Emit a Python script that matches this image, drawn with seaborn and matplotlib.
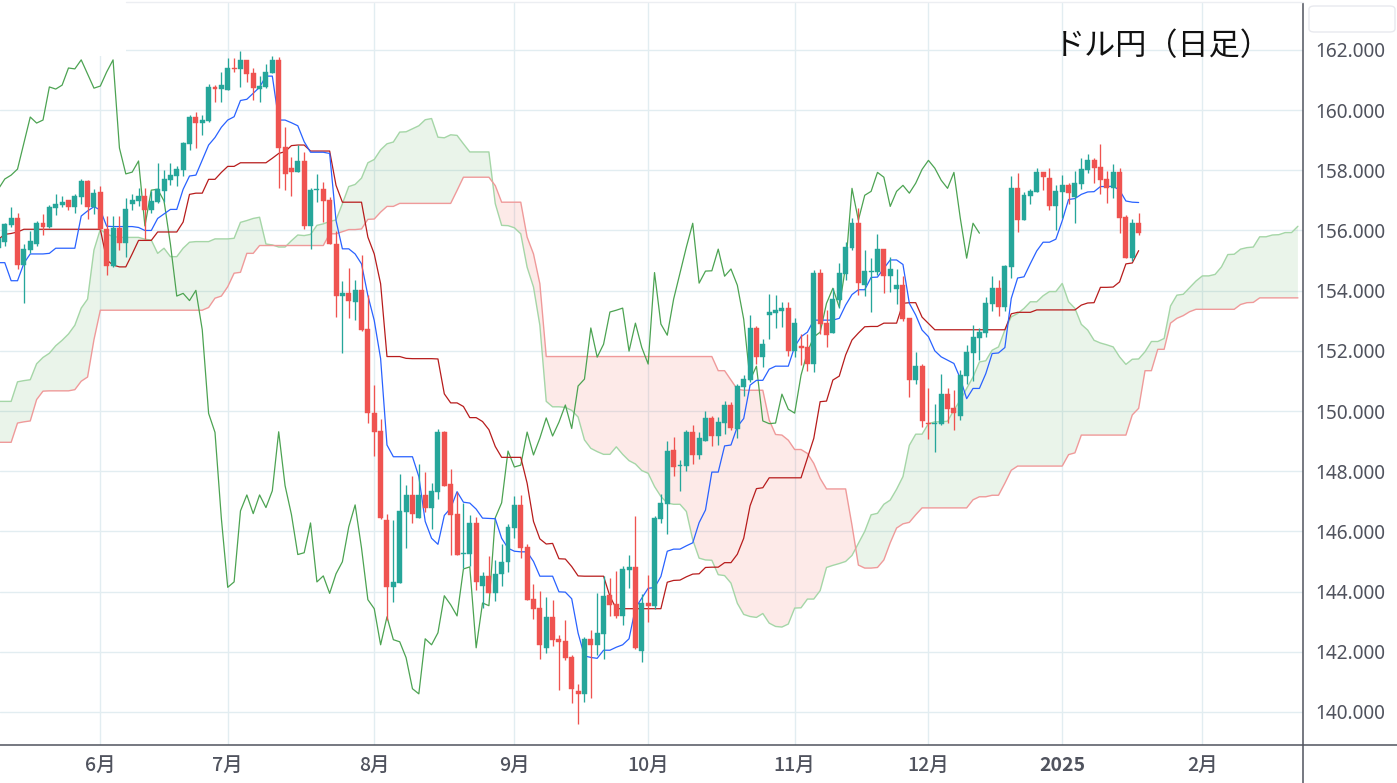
"""
USD/JPY daily candles with Ichimoku lines
"""

import numpy as np
import pandas as pd
import matplotlib
matplotlib.use("Agg")
import matplotlib.pyplot as plt
from matplotlib.lines import Line2D
from matplotlib.patches import FancyBboxPatch, Rectangle
import seaborn as sns

# ---------------------------------------------------------
# 1. Data (one value per trading day)
# ---------------------------------------------------------
opens = [
    155.41, 155.63, 156.18, 156.42, 154.85, 155.35, 155.56, 156.25, 156.12, 156.76,
    156.85, 157.01, 156.78, 157.12, 157.64, 156.78, 157.28, 156.05, 154.82, 156.08,
    155.58, 156.88, 156.98, 157.15, 156.68, 156.95, 157.31, 157.68, 157.81, 158.01,
    158.87, 159.77, 159.57, 159.64, 160.77, 160.7, 160.67, 161.4, 161.37, 161.67,
    161.23, 160.7, 160.77, 161.23, 161.67, 158.77, 158.08, 157.94, 158.31, 156.15,
    157.34, 157.37, 157.01, 155.56, 153.81, 153.91, 153.61, 154.01, 152.74, 149.95,
    149.32, 146.38, 144.14, 144.3, 146.66, 147.21, 146.46, 147.21, 146.79, 147.32,
    149.31, 147.58, 146.58, 145.26, 145.26, 146.28, 144.17, 144.52, 143.94, 144.57,
    144.97, 146.1, 146.88, 145.49, 143.76, 143.46, 142.13, 143.16, 142.43, 142.36,
    141.83, 140.7, 140.6, 142.43, 142.23, 142.6, 143.89, 143.59, 143.19, 144.72,
    144.82, 142.03, 143.62, 143.53, 146.42, 146.91, 148.7, 148.18, 148.17, 149.3,
    148.54, 149.0, 149.77, 149.17, 149.6, 150.2, 149.4, 150.8, 151.03, 152.76,
    151.79, 153.19, 153.25, 153.32, 153.42, 151.99, 152.15, 152.12, 151.56, 154.6,
    152.92, 152.59, 153.69, 154.55, 155.41, 156.24, 154.18, 154.63, 154.62, 155.38,
    154.48, 154.05, 154.18, 153.09, 151.03, 151.49, 149.6, 149.58, 149.57, 150.56,
    150.1, 149.83, 151.16, 151.93, 152.43, 152.59, 153.55, 154.08, 153.45, 154.78,
    157.4, 156.34, 157.14, 157.27, 157.93, 157.73, 156.8, 157.27, 157.5, 157.1,
    157.54, 158.0, 158.33, 158.1, 157.7, 157.4, 157.93, 156.44, 155.08, 156.24,
]
highs = [
    155.8, 156.26, 156.77, 156.59, 155.54, 155.98, 156.3, 156.55, 156.85, 157.21,
    157.15, 157.01, 157.21, 157.71, 157.68, 157.38, 157.48, 156.48, 156.48, 156.48,
    157.08, 157.21, 157.41, 157.4, 157.31, 158.24, 158.01, 158.24, 158.14, 158.94,
    159.84, 159.94, 159.84, 160.87, 160.83, 161.27, 161.73, 161.73, 161.97, 161.67,
    161.4, 161.13, 161.53, 161.8, 161.77, 159.44, 158.44, 158.84, 158.61, 157.41,
    157.88, 157.61, 157.11, 155.97, 154.31, 154.74, 154.34, 155.2, 153.87, 150.88,
    149.75, 146.58, 146.38, 147.91, 147.55, 147.85, 148.24, 147.98, 147.61, 149.41,
    149.34, 148.08, 147.31, 146.95, 146.55, 146.48, 144.66, 145.19, 145.05, 145.59,
    146.25, 147.18, 147.21, 145.59, 144.26, 144.02, 143.82, 143.72, 142.56, 143.06,
    141.9, 140.93, 142.5, 142.73, 143.96, 144.52, 144.46, 144.69, 144.85, 145.22,
    146.51, 143.92, 144.55, 146.52, 147.25, 149.0, 149.13, 148.37, 149.37, 149.53,
    149.3, 150.0, 149.83, 149.8, 150.33, 150.3, 150.9, 151.2, 153.19, 152.82,
    152.39, 153.89, 153.85, 153.62, 153.62, 153.09, 152.56, 152.56, 154.68, 154.72,
    153.35, 154.08, 154.92, 155.61, 156.41, 156.74, 155.35, 155.08, 155.88, 155.38,
    155.11, 154.72, 154.48, 153.09, 151.96, 151.56, 150.76, 150.23, 151.23, 150.76,
    150.7, 151.36, 152.19, 152.86, 152.76, 153.78, 154.48, 154.35, 154.84, 157.8,
    157.9, 157.27, 157.37, 158.07, 157.93, 158.07, 157.5, 157.83, 157.57, 157.97,
    158.4, 158.53, 158.4, 158.86, 157.97, 158.2, 158.07, 156.51, 156.37, 156.57,
]
lows = [
    155.35, 155.48, 156.13, 154.71, 153.6, 155.26, 155.48, 155.86, 156.07, 156.51,
    156.79, 156.68, 156.59, 156.88, 156.38, 156.55, 156.02, 154.53, 154.79, 155.35,
    155.12, 156.68, 156.81, 155.72, 156.59, 156.9, 156.95, 157.51, 157.48, 157.81,
    158.67, 158.74, 159.17, 159.6, 160.27, 160.27, 160.67, 161.27, 160.77, 160.93,
    160.33, 160.27, 160.73, 161.23, 157.41, 157.34, 157.14, 157.94, 156.05, 155.39,
    156.95, 156.28, 155.55, 153.12, 151.92, 153.08, 153.01, 152.66, 149.6, 148.49,
    146.4, 143.06, 143.64, 144.28, 145.46, 146.29, 146.46, 146.63, 146.09, 147.09,
    147.52, 145.2, 145.23, 144.79, 144.85, 144.06, 143.46, 143.94, 143.69, 144.2,
    144.66, 145.79, 145.12, 143.73, 143.09, 141.76, 141.96, 142.2, 140.73, 141.73,
    140.3, 139.6, 140.34, 140.47, 141.9, 141.76, 143.19, 143.13, 142.89, 144.12,
    142.1, 141.66, 142.99, 143.43, 146.28, 145.92, 147.84, 147.34, 148.0, 148.24,
    148.4, 149.0, 148.84, 148.87, 149.23, 149.37, 149.1, 150.5, 150.96, 151.56,
    151.46, 152.39, 152.76, 152.79, 151.82, 151.79, 151.53, 151.33, 151.29, 152.56,
    152.12, 152.59, 153.42, 154.35, 155.35, 153.85, 153.82, 153.29, 154.52, 153.92,
    153.95, 153.55, 152.99, 150.46, 150.9, 149.47, 149.07, 148.64, 149.53, 149.6,
    149.37, 149.7, 150.89, 150.99, 151.69, 152.45, 153.32, 153.15, 153.32, 154.41,
    155.94, 156.34, 156.87, 157.27, 157.34, 156.67, 156.01, 156.41, 156.87, 156.24,
    157.37, 157.9, 157.57, 157.2, 156.9, 157.07, 155.91, 155.08, 154.98, 155.84,
]
closes = [
    155.74, 156.22, 156.42, 154.85, 155.39, 155.65, 156.25, 156.12, 156.78, 156.88,
    156.95, 156.78, 157.15, 157.64, 156.78, 157.25, 156.04, 154.82, 156.08, 155.58,
    156.71, 157.01, 157.15, 156.68, 156.98, 157.38, 157.71, 157.84, 158.04, 158.91,
    159.77, 159.57, 159.67, 160.77, 160.7, 160.83, 161.4, 161.37, 161.67, 161.2,
    160.73, 160.8, 161.27, 161.67, 158.74, 157.88, 157.94, 158.31, 156.15, 157.34,
    157.37, 156.98, 155.55, 153.82, 153.91, 153.67, 154.01, 152.7, 149.92, 149.29,
    146.43, 144.14, 144.32, 146.68, 147.21, 146.59, 147.21, 146.79, 147.35, 149.31,
    147.52, 146.56, 145.23, 145.29, 146.28, 144.32, 144.52, 143.94, 144.59, 144.99,
    146.15, 146.88, 145.45, 143.73, 143.43, 142.23, 143.16, 142.4, 142.33, 141.8,
    140.77, 140.6, 142.43, 142.23, 142.63, 143.86, 143.56, 143.19, 144.75, 144.82,
    142.13, 143.62, 143.53, 146.45, 146.95, 148.67, 148.14, 148.2, 149.3, 148.54,
    149.1, 149.77, 149.17, 149.63, 150.2, 149.42, 150.83, 151.06, 152.76, 151.79,
    152.22, 153.29, 153.35, 153.42, 151.99, 152.92, 152.11, 151.56, 154.6, 152.89,
    152.52, 153.72, 154.58, 155.45, 156.24, 154.25, 154.65, 154.66, 155.38, 154.48,
    154.72, 154.18, 153.05, 151.03, 151.49, 149.67, 149.58, 149.6, 150.56, 150.06,
    149.93, 151.19, 151.96, 152.46, 152.62, 153.58, 154.08, 153.45, 154.81, 157.4,
    156.34, 157.17, 157.3, 157.93, 157.77, 156.8, 157.3, 157.5, 157.24, 157.57,
    158.03, 158.33, 158.07, 157.67, 157.4, 157.93, 156.41, 155.08, 156.24, 155.91,
]
tenkan = [
    154.93, 154.93, 154.33, 154.33, 154.91, 155.22, 155.22, 155.22, 155.24, 155.41,
    155.41, 155.41, 155.41, 156.48, 156.65, 156.79, 156.68, 156.14, 156.13, 156.13,
    156.13, 156.13, 156.1, 156.0, 156.0, 156.4, 156.55, 156.7, 156.7, 157.37,
    157.81, 157.84, 158.34, 158.84, 159.09, 159.43, 159.67, 159.78, 160.32, 160.36,
    160.56, 160.76, 161.13, 161.13, 159.67, 159.67, 159.58, 159.48, 158.95, 158.6,
    158.6, 158.6, 158.56, 156.33, 155.39, 155.39, 155.22, 154.89, 153.84, 153.01,
    151.74, 148.87, 148.48, 148.48, 148.48, 148.48, 147.82, 146.33, 145.77, 145.57,
    146.53, 146.77, 147.32, 146.97, 146.94, 146.74, 146.44, 146.43, 146.42, 145.77,
    145.44, 145.34, 145.32, 145.32, 145.0, 144.51, 144.51, 144.51, 143.99, 143.98,
    143.76, 142.62, 141.86, 141.81, 141.78, 142.05, 142.05, 142.15, 142.23, 142.43,
    143.45, 143.78, 144.11, 144.13, 144.5, 145.34, 145.41, 145.41, 145.52, 145.62,
    146.29, 146.71, 147.97, 147.97, 148.84, 148.87, 149.48, 149.75, 150.86, 151.02,
    151.02, 151.39, 151.49, 151.49, 151.49, 152.14, 152.47, 152.62, 153.02, 153.02,
    153.02, 153.02, 153.08, 153.52, 153.87, 154.03, 154.03, 154.44, 154.45, 154.74,
    155.02, 155.02, 154.87, 153.58, 153.19, 152.69, 152.47, 152.0, 151.8, 151.69,
    151.58, 151.08, 150.41, 150.75, 150.75, 151.24, 151.91, 151.93, 152.11, 153.74,
    154.42, 154.46, 154.9, 155.32, 155.61, 155.61, 155.71, 156.32, 157.03, 157.06,
    157.2, 157.28, 157.29, 157.46, 157.46, 157.47, 157.34, 156.98, 156.94, 156.93,
]
kijun = [
    155.71, 155.87, 155.9, 155.95, 156.04, 156.04, 156.04, 156.04, 156.04, 156.04,
    156.04, 156.04, 156.04, 156.04, 156.04, 156.04, 156.04, 155.02, 154.85, 154.79,
    154.79, 155.22, 155.67, 155.67, 155.67, 155.95, 155.95, 155.95, 155.95, 156.28,
    157.2, 157.24, 157.24, 157.7, 157.7, 157.93, 158.13, 158.13, 158.25, 158.25,
    158.25, 158.25, 158.25, 158.4, 158.56, 158.62, 158.82, 158.84, 158.84, 158.64,
    158.64, 158.64, 158.64, 157.5, 156.94, 156.94, 156.94, 156.94, 155.78, 155.22,
    154.23, 151.81, 151.81, 151.81, 151.75, 151.74, 151.74, 151.74, 151.74, 151.73,
    150.57, 150.27, 150.27, 150.15, 149.78, 149.78, 149.65, 149.38, 148.82, 148.46,
    148.46, 148.46, 148.46, 147.6, 146.33, 145.75, 145.58, 145.6, 145.09, 145.08,
    144.83, 144.52, 144.51, 144.51, 144.51, 144.51, 143.84, 143.43, 143.43, 143.43,
    143.43, 143.43, 143.43, 143.43, 143.43, 144.31, 144.37, 144.38, 144.49, 144.58,
    144.59, 144.8, 144.81, 144.81, 144.96, 144.96, 145.24, 145.77, 146.85, 147.42,
    147.45, 147.78, 147.78, 147.78, 147.78, 147.78, 147.78, 148.43, 149.09, 150.31,
    150.33, 151.03, 151.16, 151.86, 152.36, 152.59, 152.8, 152.81, 152.81, 152.92,
    152.92, 152.92, 153.58, 153.6, 153.6, 153.12, 152.91, 152.7, 152.7, 152.7,
    152.7, 152.7, 152.7, 152.7, 152.7, 152.7, 152.7, 152.7, 152.7, 153.23,
    153.28, 153.28, 153.28, 153.36, 153.36, 153.36, 153.36, 153.36, 153.36, 153.36,
    153.52, 153.59, 153.6, 154.11, 154.11, 154.12, 154.29, 154.89, 154.92, 155.33,
]
# the two cloud lines run 25 days past the last candle
senkou_a = [
    150.32, 150.32, 150.32, 150.97, 151.01, 151.04, 151.57, 151.78, 151.92, 152.17,
    152.35, 152.56, 152.85, 153.42, 153.72, 155.35, 156.04, 155.88, 155.8, 155.77,
    155.77, 155.77, 155.77, 155.71, 155.68, 155.24, 155.41, 155.13, 155.13, 155.41,
    155.61, 155.63, 155.63, 155.63, 155.72, 155.72, 155.72, 155.74, 156.27, 156.33,
    156.4, 156.44, 155.55, 155.52, 155.45, 155.45, 155.66, 155.85, 155.83, 155.87,
    156.17, 156.22, 156.3, 156.35, 156.89, 157.46, 157.53, 157.74, 158.25, 158.36,
    158.68, 158.88, 158.94, 159.27, 159.28, 159.38, 159.48, 159.68, 159.72, 159.1,
    159.08, 159.18, 159.16, 158.88, 158.61, 158.61, 158.61, 158.61, 156.89, 156.17,
    156.16, 156.09, 155.89, 154.78, 154.12, 152.85, 150.32, 150.14, 150.14, 150.12,
    150.02, 149.8, 149.04, 148.76, 148.65, 148.56, 148.56, 148.81, 148.56, 148.35,
    148.24, 148.02, 147.93, 147.49, 147.16, 146.94, 146.9, 146.9, 146.66, 145.72,
    145.11, 145.05, 145.04, 144.56, 144.53, 144.28, 143.61, 143.24, 143.17, 143.14,
    143.27, 142.95, 142.84, 142.82, 142.92, 143.45, 143.46, 143.75, 143.75, 144.03,
    144.8, 144.87, 144.93, 145.0, 145.2, 145.6, 146.0, 146.55, 146.6, 146.9,
    147.04, 147.4, 147.82, 148.86, 149.23, 149.23, 149.58, 149.64, 149.64, 149.66,
    150.03, 150.36, 150.75, 151.13, 151.63, 151.67, 152.02, 152.13, 152.69, 153.13,
    153.24, 153.41, 153.63, 153.63, 153.83, 153.97, 153.97, 154.24, 153.63, 153.41,
    152.88, 152.69, 152.35, 152.26, 152.2, 152.13, 151.8, 151.55, 151.72, 151.73,
    151.97, 152.31, 152.31, 152.41, 153.49, 153.85, 153.88, 154.1, 154.32, 154.49,
    154.49, 154.54, 154.79, 155.2, 155.21, 155.38, 155.43, 155.45, 155.79, 155.79,
    155.85, 155.86, 155.93, 155.93, 156.14,
]
senkou_b = [
    148.96, 148.96, 148.96, 149.6, 149.64, 149.67, 150.38, 150.66, 150.67, 150.67,
    150.67, 150.67, 150.71, 150.99, 151.13, 152.37, 153.35, 153.35, 153.35, 153.35,
    153.35, 153.35, 153.35, 153.35, 153.35, 153.35, 153.35, 153.35, 153.35, 153.35,
    153.35, 153.35, 153.35, 153.44, 153.75, 153.82, 154.13, 154.58, 154.61, 155.24,
    155.24, 155.5, 155.5, 155.5, 155.5, 155.5, 155.5, 155.5, 155.5, 155.5,
    155.5, 155.5, 155.89, 155.89, 155.96, 156.03, 156.03, 156.05, 156.37, 156.38,
    156.61, 156.8, 156.8, 156.9, 156.9, 156.9, 156.9, 156.9, 156.9, 156.9,
    156.9, 156.9, 157.33, 157.77, 157.77, 157.77, 157.77, 157.77, 157.49, 156.94,
    156.94, 156.94, 156.94, 155.78, 155.22, 154.23, 151.81, 151.81, 151.81, 151.81,
    151.81, 151.81, 151.81, 151.81, 151.81, 151.81, 151.81, 151.81, 151.81, 151.81,
    151.81, 151.81, 151.81, 151.81, 151.81, 151.81, 151.81, 151.81, 151.81, 151.81,
    151.81, 151.81, 151.81, 151.34, 151.34, 151.03, 150.72, 150.69, 150.69, 150.69,
    150.69, 149.7, 149.22, 149.2, 149.03, 148.72, 148.72, 148.59, 148.26, 147.76,
    147.41, 147.41, 147.41, 147.41, 146.2, 144.88, 144.78, 144.78, 144.8, 145.05,
    145.62, 146.11, 146.25, 146.3, 146.55, 146.78, 146.78, 146.78, 146.78, 146.78,
    146.78, 146.78, 146.78, 147.05, 147.15, 147.15, 147.2, 147.2, 147.6, 148.03,
    148.17, 148.17, 148.17, 148.17, 148.17, 148.17, 148.17, 148.17, 148.55, 148.61,
    149.2, 149.2, 149.2, 149.2, 149.2, 149.2, 149.2, 149.2, 149.87, 150.09,
    151.34, 151.34, 152.05, 152.05, 152.92, 153.08, 153.17, 153.3, 153.38, 153.38,
    153.38, 153.38, 153.38, 153.38, 153.38, 153.54, 153.6, 153.61, 153.76, 153.76,
    153.76, 153.76, 153.76, 153.76, 153.76,
]

price_ticks = [140, 142, 144, 146, 148, 150, 152, 154, 156, 158, 160, 162]
month_ticks = [0, 20, 43, 65, 86, 109, 130, 151, 173]
month_labels = ["6月", "7月", "8月", "9月", "10月", "11月", "12月", "2025", "2月"]

UP = "#26a69a"
DOWN = "#ef5350"
GRID = "#e2edf1"
AXIS = "#50535e"

# bar number 0 is the first trading day of June
FIRST_BAR = -16
bars = np.arange(FIRST_BAR, FIRST_BAR + len(closes))
cloud_bars = np.arange(FIRST_BAR, FIRST_BAR + len(senkou_a))

df = pd.DataFrame({"bar": bars, "open": opens, "high": highs, "low": lows, "close": closes,
                   "tenkan": tenkan, "kijun": kijun})
df["colour"] = np.where(df["close"] >= df["open"], UP, DOWN)
df["body_low"] = df[["open", "close"]].min(axis=1)
df["body_size"] = (df["open"] - df["close"]).abs()

cloud = pd.DataFrame({"bar": cloud_bars, "a": senkou_a, "b": senkou_b})
# the lagging line is the close drawn 25 bars back
lagging = pd.DataFrame({"bar": bars[:-25], "close": closes[25:]})

# ---------------------------------------------------------
# 2. Figure
# ---------------------------------------------------------
sns.set_theme(style="white")
plt.rcParams["font.family"] = ["Noto Sans CJK JP", "DejaVu Sans"]

W, H = 1397, 783
fig = plt.figure(figsize=(W / 100, H / 100), dpi=100, facecolor="white")
ax = fig.add_axes([0, (H - 745) / H, 1303 / W, 742 / H])

# cloud
ax.fill_between(cloud["bar"], cloud["a"], cloud["b"], where=cloud["a"] >= cloud["b"],
                interpolate=True, color="#43a047", alpha=0.11, linewidth=0, zorder=1)
ax.fill_between(cloud["bar"], cloud["a"], cloud["b"], where=cloud["a"] < cloud["b"],
                interpolate=True, color="#f44336", alpha=0.11, linewidth=0, zorder=1)
sns.lineplot(data=cloud, x="bar", y="a", color="#a5d6a7", linewidth=1.0, estimator=None, ax=ax, zorder=2)
sns.lineplot(data=cloud, x="bar", y="b", color="#ef9a9a", linewidth=1.0, estimator=None, ax=ax, zorder=2)

# ichimoku lines
sns.lineplot(data=lagging, x="bar", y="close", color="#4ca352", linewidth=0.9, estimator=None, ax=ax, zorder=3)
sns.lineplot(data=df, x="bar", y="kijun", color="#b71c1c", linewidth=0.9, estimator=None, ax=ax, zorder=3)
sns.lineplot(data=df, x="bar", y="tenkan", color="#2962ff", linewidth=0.9, estimator=None, ax=ax, zorder=3)

# candles
ax.vlines(df["bar"], df["low"], df["high"], colors=df["colour"], linewidth=0.95, zorder=4)
ax.bar(df["bar"], df["body_size"], bottom=df["body_low"], width=0.78, color=df["colour"],
       edgecolor=df["colour"], linewidth=0.3, zorder=5)

ax.set_xlim(-15.75, 188.8)
ax.set_ylim(138.9, 163.56)
ax.set_xlabel("")
ax.set_ylabel("")

ax.set_xticks(month_ticks)
ax.set_xticklabels(month_labels, fontsize=14, color=AXIS, fontweight="medium")
ax.get_xticklabels()[7].set_fontweight("bold")
ax.set_yticks(price_ticks)
ax.set_yticklabels([f"{p:.3f}" for p in price_ticks], fontsize=13.7, color=AXIS,
                   family=["Noto Sans", "DejaVu Sans"])
ax.yaxis.tick_right()
ax.tick_params(axis="x", length=0, pad=8)
ax.tick_params(axis="y", length=0, pad=9)
ax.grid(True, color=GRID, linewidth=1.0)
ax.set_axisbelow(True)
for side in ax.spines:
    ax.spines[side].set_visible(False)

# the top-left corner of the panel has no grid
ax.add_patch(Rectangle((0, 1 - 53 / 742), 126 / 1303, 53 / 742, transform=ax.transAxes,
                       facecolor="white", edgecolor="none", zorder=1.5))

# frame lines run past the plot area
fig.add_artist(Line2D([0, 1], [(H - 745) / H] * 2, color=AXIS, linewidth=1.1))
fig.add_artist(Line2D([1303 / W] * 2, [0, (H - 3) / H], color=AXIS, linewidth=1.1))
fig.add_artist(Line2D([126 / W, 1303 / W], [(H - 2) / H] * 2, color="#eceef2", linewidth=1.0))
fig.add_artist(FancyBboxPatch((1309 / W, (H - 32) / H), 86 / W, 26 / H,
                              boxstyle="round,pad=0,rounding_size=0.004",
                              transform=fig.transFigure, facecolor="white",
                              edgecolor="#e8e9ee", linewidth=1.0))

fig.text(1054 / W, (H - 47) / H, "ドル円（日足）", fontsize=22.4, color="#111111",
         ha="left", va="center")

fig.savefig("out.png", dpi=100)
plt.close(fig)
